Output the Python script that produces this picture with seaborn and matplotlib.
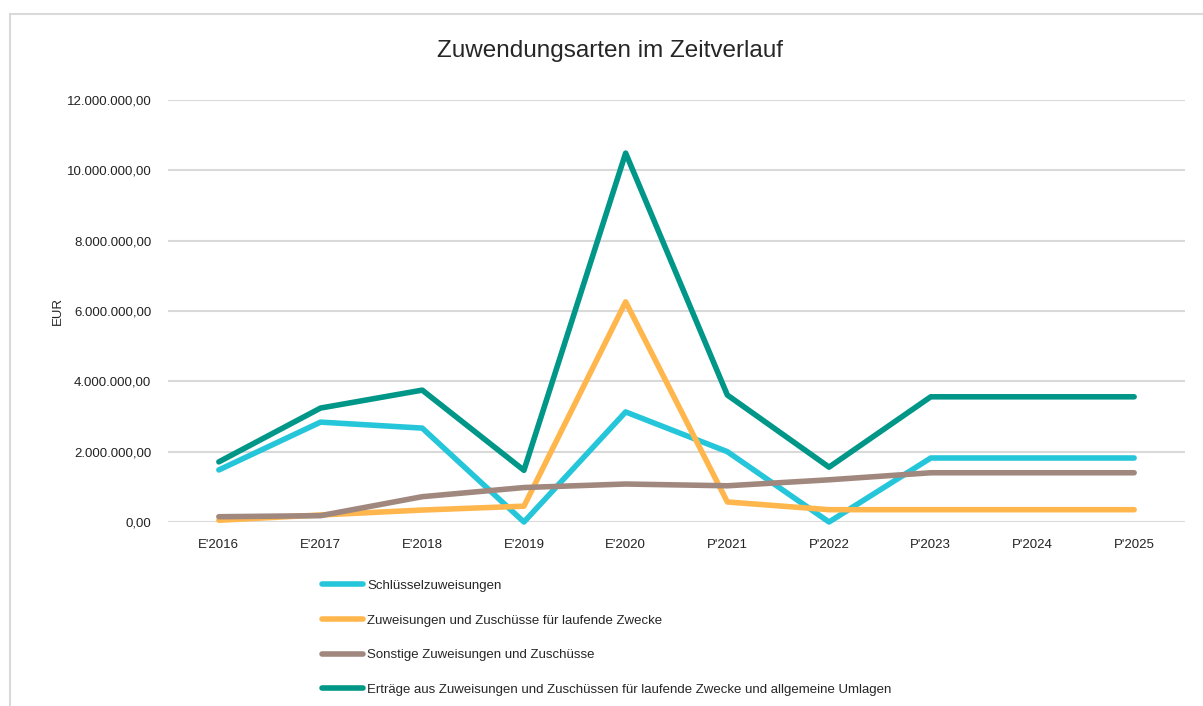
import pandas as pd
import matplotlib.pyplot as plt
import matplotlib.ticker as mticker
from matplotlib.patches import Rectangle
import seaborn as sns

# Daten (EUR)
jahre = ["E'2016", "E'2017", "E'2018", "E'2019", "E'2020",
         "P'2021", "P'2022", "P'2023", "P'2024", "P'2025"]

schluessel = [1480000, 2840000, 2670000, 0, 3130000,
              2000000, 0, 1820000, 1820000, 1820000]
laufende = [50000, 200000, 340000, 450000, 6260000,
            570000, 350000, 350000, 350000, 350000]
sonstige = [150000, 180000, 720000, 980000, 1080000,
            1030000, 1200000, 1400000, 1400000, 1400000]
ertraege = [1710000, 3240000, 3750000, 1470000, 10490000,
            3610000, 1560000, 3560000, 3560000, 3560000]

namen = [
    "Schlüsselzuweisungen",
    "Zuweisungen und Zuschüsse für laufende Zwecke",
    "Sonstige Zuweisungen und Zuschüsse",
    "Erträge aus Zuweisungen und Zuschüssen für laufende Zwecke und allgemeine Umlagen",
]
farben = ["#26C6DA", "#FFB74D", "#A1887F", "#009688"]

df = pd.DataFrame({"Jahr": jahre,
                   namen[0]: schluessel,
                   namen[1]: laufende,
                   namen[2]: sonstige,
                   namen[3]: ertraege})
long = df.melt(id_vars="Jahr", var_name="Reihe", value_name="EUR")
long["pos"] = long["Jahr"].map({j: i for i, j in enumerate(jahre)})

sns.set_style("white")
plt.rcParams["font.family"] = ["Liberation Sans", "DejaVu Sans"]

fig = plt.figure(figsize=(12.03, 7.06), dpi=100)
ax = fig.add_axes([168 / 1203, 1 - 522 / 706, (1185 - 168) / 1203, (522 - 100) / 706])

# Rahmen um das Diagramm
fig.patches.append(Rectangle((10 / 1203, -0.1), 1.2, 1 - 14 / 706 + 0.1,
                             transform=fig.transFigure, fill=False,
                             edgecolor="#d9d9d9", linewidth=1.5))

sns.lineplot(data=long, x="pos", y="EUR", hue="Reihe", hue_order=namen,
             palette=farben, linewidth=4, solid_capstyle="round",
             ax=ax, legend=False)
for line in ax.lines:
    line.set_clip_on(False)
    line.set_solid_joinstyle("round")

ax.set_xlim(-0.5, len(jahre) - 0.5)
ax.set_ylim(0, 12000000)
ax.set_xticks(range(len(jahre)))
ax.set_xticklabels(jahre)
ax.yaxis.set_major_locator(mticker.MultipleLocator(2000000))
ax.yaxis.set_major_formatter(mticker.FuncFormatter(
    lambda v, p: f"{v:,.2f}".replace(",", "X").replace(".", ",").replace("X", ".")))
ax.tick_params(axis="both", labelsize=9.5, colors="#222222", length=0, pad=12)
ax.grid(axis="y", color="#d9d9d9", linewidth=1.5)
ax.set_axisbelow(True)
sns.despine(ax=ax, left=True, bottom=True)
ax.set_xlabel("")
ax.set_ylabel("EUR", fontsize=9.5, labelpad=2)

fig.text(610 / 1203, 1 - 51 / 706, "Zuwendungsarten im Zeitverlauf",
         ha="center", va="center", fontsize=17.5)

handles = [plt.Line2D([], [], color=c, linewidth=4, solid_capstyle="round") for c in farben]
fig.legend(handles, namen, loc="upper left", bbox_to_anchor=(310 / 1203, 1 - 568 / 706),
           frameon=False, fontsize=9.5, handlelength=3.1, handletextpad=0.35,
           labelspacing=1.7)

fig.savefig("out.png", dpi=100)
plt.close(fig)
